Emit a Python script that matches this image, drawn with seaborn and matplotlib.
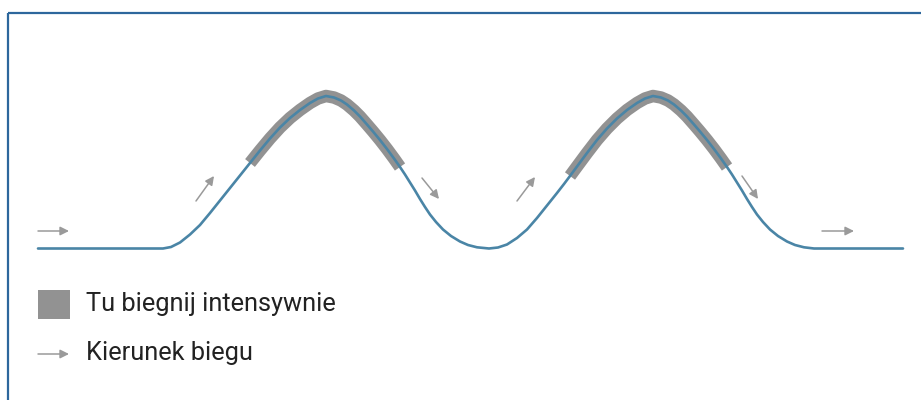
import matplotlib.pyplot as plt
import numpy as np
import pandas as pd
import seaborn as sns

# route of the run (pixel units, y grows downwards)
route_x = [38, 100, 163, 171, 180, 190, 200, 210, 220, 230, 240, 250, 260, 270, 280, 290,
           300, 310, 318, 326, 334, 341, 347, 354, 360, 367, 373, 380, 387, 394, 400, 405,
           410, 415, 420, 425, 430, 436, 443, 451, 460, 468, 477, 489, 498, 507, 517, 527,
           537, 547, 557, 564, 570, 577, 587, 597, 607, 617, 627, 637, 645, 653, 661, 668,
           674, 681, 687, 694, 700, 707, 714, 721, 727, 732, 737, 742, 747, 752, 757, 763,
           770, 778, 787, 795, 804, 814, 860, 903]
route_y = [248.5, 248.5, 248.5, 247, 242.5, 234.5, 225, 213, 200.5, 188, 175.5, 163, 150.5,
           138.5, 127.5, 118, 110, 103, 98.5, 96, 97.5, 100.5, 104.5, 110.5, 116.5, 124.5,
           131.5, 140, 149, 158.5, 167, 174.5, 182.5, 190.5, 199, 207, 214.5, 222, 229.5,
           236, 241.5, 245, 247.3, 248.5, 247.5, 244.5, 238, 229.5, 218, 205.5, 193, 184,
           176, 166.5, 153, 140, 128.5, 118.5, 110, 103, 98.5, 96, 97.5, 100.5, 104.5, 110.5,
           116.5, 124.5, 131.5, 140, 149, 158.5, 167, 174.5, 182.5, 190.5, 199, 207, 214.5,
           222, 229.5, 236, 241.5, 245, 247.3, 248.5, 248.5, 248.5]

# stretches to run hard (x from, x to)
hard_from = [248, 570]
hard_to = [400, 727]

# direction arrows (start x, start y, end x, end y)
arrow_x0 = [38, 196, 422, 517, 742, 822]
arrow_y0 = [231, 201, 178, 201, 176, 231]
arrow_x1 = [69, 214, 439, 535, 758, 854]
arrow_y1 = [231, 176, 199, 177, 199, 231]

legend_labels = ["Tu biegnij intensywnie", "Kierunek biegu"]

route_color = "#4a85a6"
hard_color = "#929292"
arrow_color = "#9a9a9a"
frame_color = "#2d679c"
text_color = "#222222"

sns.set_style("white")
plt.rcParams["font.family"] = ["Roboto", "DejaVu Sans"]

route = pd.DataFrame({"x": route_x, "y": route_y})

fig = plt.figure(figsize=(9.21, 4.0), dpi=100)
ax = fig.add_axes([0, 0, 1, 1])
ax.set_xlim(0, 921)
ax.set_ylim(400, 0)
ax.axis("off")

# thick grey band under the intensive parts
for x0, x1 in zip(hard_from, hard_to):
    part = route[(route.x >= x0) & (route.x <= x1)]
    sns.lineplot(data=part, x="x", y="y", sort=False, estimator=None, ax=ax,
                 color=hard_color, linewidth=9, solid_capstyle="butt",
                 solid_joinstyle="round")

sns.lineplot(data=route, x="x", y="y", sort=False, estimator=None, ax=ax,
             color=route_color, linewidth=1.9, solid_joinstyle="round")

for x0, y0, x1, y1 in zip(arrow_x0, arrow_y0, arrow_x1, arrow_y1):
    ax.annotate("", xy=(x1, y1), xytext=(x0, y0),
                arrowprops=dict(arrowstyle="-|>", color=arrow_color, lw=1.1,
                                mutation_scale=13, shrinkA=0, shrinkB=0))

# legend
ax.add_patch(plt.Rectangle((38, 290), 32, 29, color=hard_color, lw=0))
ax.text(86, 304, legend_labels[0], fontsize=18.3, color=text_color, va="center")
ax.annotate("", xy=(69, 354), xytext=(38, 354),
            arrowprops=dict(arrowstyle="-|>", color=arrow_color, lw=1.1,
                            mutation_scale=13, shrinkA=0, shrinkB=0))
ax.text(86, 353, legend_labels[1], fontsize=18.3, color=text_color, va="center")

# frame on the top and left
ax.plot([8, 921], [13, 13], color=frame_color, linewidth=1.6, solid_capstyle="butt")
ax.plot([8, 8], [13, 400], color=frame_color, linewidth=1.6, solid_capstyle="butt")

ax.set_xlabel("")
ax.set_ylabel("")
fig.savefig("out.png", dpi=100)
